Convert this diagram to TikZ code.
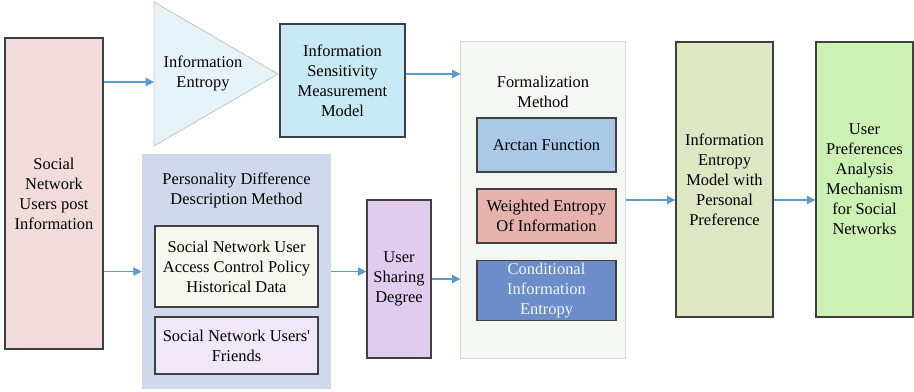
\documentclass[tikz,border=0pt]{standalone}
\usepackage{fontspec}
\setmainfont{Liberation Serif}
\usepackage{xcolor}
\usetikzlibrary{arrows.meta, positioning, calc}

\definecolor{arrblue}{HTML}{5B9BD5}
\definecolor{postpink}{HTML}{F2DCDB}
\definecolor{tricyan}{HTML}{E6F4F9}
\definecolor{ismcyan}{HTML}{C6E9F3}
\definecolor{pddblue}{HTML}{CFD9EB}
\definecolor{accwhite}{HTML}{F6F8EF}
\definecolor{frililac}{HTML}{F0E7F8}
\definecolor{sharelilac}{HTML}{E1CCEF}
\definecolor{formwhite}{HTML}{F4F8F2}
\definecolor{arcblue}{HTML}{A9C9E7}
\definecolor{weirose}{HTML}{E5B2AE}
\definecolor{condblue}{HTML}{6B8DC9}
\definecolor{iemgreen}{HTML}{DDE7C4}
\definecolor{upagreen}{HTML}{CDF1B5}

\newcommand{\txt}{\fontsize{11.7pt}{14.2pt}\selectfont}

\begin{document}
\begin{tikzpicture}[
  x=0.025cm, y=-0.025cm,
  box/.style={draw=black!75, line width=0.9pt, align=center, font=\txt,
              inner sep=2pt},
  softbox/.style={draw=black!15, line width=0.7pt, align=center, font=\txt},
  lbl/.style={align=center, font=\txt},
  arr/.style={-{Triangle[length=6pt, width=6pt]}, arrblue, line width=1pt},
]
  \useasboundingbox (0,0) rectangle (914,391);

  % Social network users
  \node[box, fill=postpink, minimum width=2.45cm, minimum height=7.775cm] (social)
       at (54,193.5) {Social\\Network\\Users post\\Information};

  % Information entropy triangle
  \coordinate (base) at (154,82);
  \coordinate (apex) at (278,74);
  \draw[draw=black!20, fill=tricyan, line width=0.7pt]
       (154,2) -- (apex) -- (154,146) -- cycle;
  \node[lbl] (entropy) at (203,73) {Information\\Entropy};

  % Sensitivity measurement
  \node[box, fill=ismcyan, minimum width=3.125cm, minimum height=2.825cm] (ism)
       at (342.5,80.5) {Information\\Sensitivity\\Measurement\\Model};

  % Personality difference
  \node[fill=pddblue, minimum width=4.725cm, minimum height=5.875cm] (pdd)
       at (236.5,271.5) {};
  \node[lbl] (pddtitle) at (236.5,190) {Personality Difference\\Description Method};
  \node[box, fill=accwhite, minimum width=4.075cm, minimum height=2.025cm] (access)
       at (236.5,266.5) {Social Network User\\Access Control Policy\\Historical Data};
  \node[box, fill=frililac, minimum width=4.075cm, minimum height=1.425cm] (friends)
       at (236.5,345.5) {Social Network Users\textquotesingle\\Friends};

  % Sharing degree
  \node[box, fill=sharelilac, minimum width=1.6cm, minimum height=3.95cm] (share)
       at (399,279) {User\\Sharing\\Degree};

  % Formalization
  \node[softbox, fill=formwhite, minimum width=4.1cm, minimum height=7.9cm] (formal)
       at (543,200) {};
  \node[lbl] (formtitle) at (543,92) {Formalization\\Method};
  \node[box, fill=arcblue, minimum width=3.475cm, minimum height=1.35cm] (arctan)
       at (546.5,145) {Arctan Function};
  \node[box, fill=weirose, minimum width=3.475cm, minimum height=1.35cm] (weighted)
       at (546.5,216) {Weighted Entropy\\Of Information};
  \node[box, fill=condblue, text=white!92!condblue, minimum width=3.475cm,
        minimum height=1.425cm, inner sep=0pt] (cond)
       at (546.5,290.5) {\raisebox{-2pt}{\begin{tabular}{@{}c@{}}Conditional\\Information\\Entropy\end{tabular}}};

  % Entropy model and mechanism
  \node[box, fill=iemgreen, minimum width=2.425cm, minimum height=6.875cm] (iem)
       at (724.5,179.5) {Information\\Entropy\\Model with\\Personal\\Preference};
  \node[box, fill=upagreen, minimum width=2.425cm, minimum height=6.875cm] (upa)
       at (864.5,179.5) {User\\Preferences\\Analysis\\Mechanism\\for Social\\Networks};

  % Connections
  \draw[arr] (social.east |- base) -- (base);
  \draw[arr] (ism.east |- apex) -- (formal.west |- apex);
  \draw[arr] (social.east |- pdd.west) -- (pdd.west);
  \draw[arr] (pdd.east) -- (pdd.east -| share.west);
  \draw[arr] (share.east) -- (share.east -| formal.west);
  \draw[arr] (formal.east) -- (formal.east -| iem.west);
  \draw[arr] (formal.east -| iem.east) -- (formal.east -| upa.west);
\end{tikzpicture}
\end{document}
